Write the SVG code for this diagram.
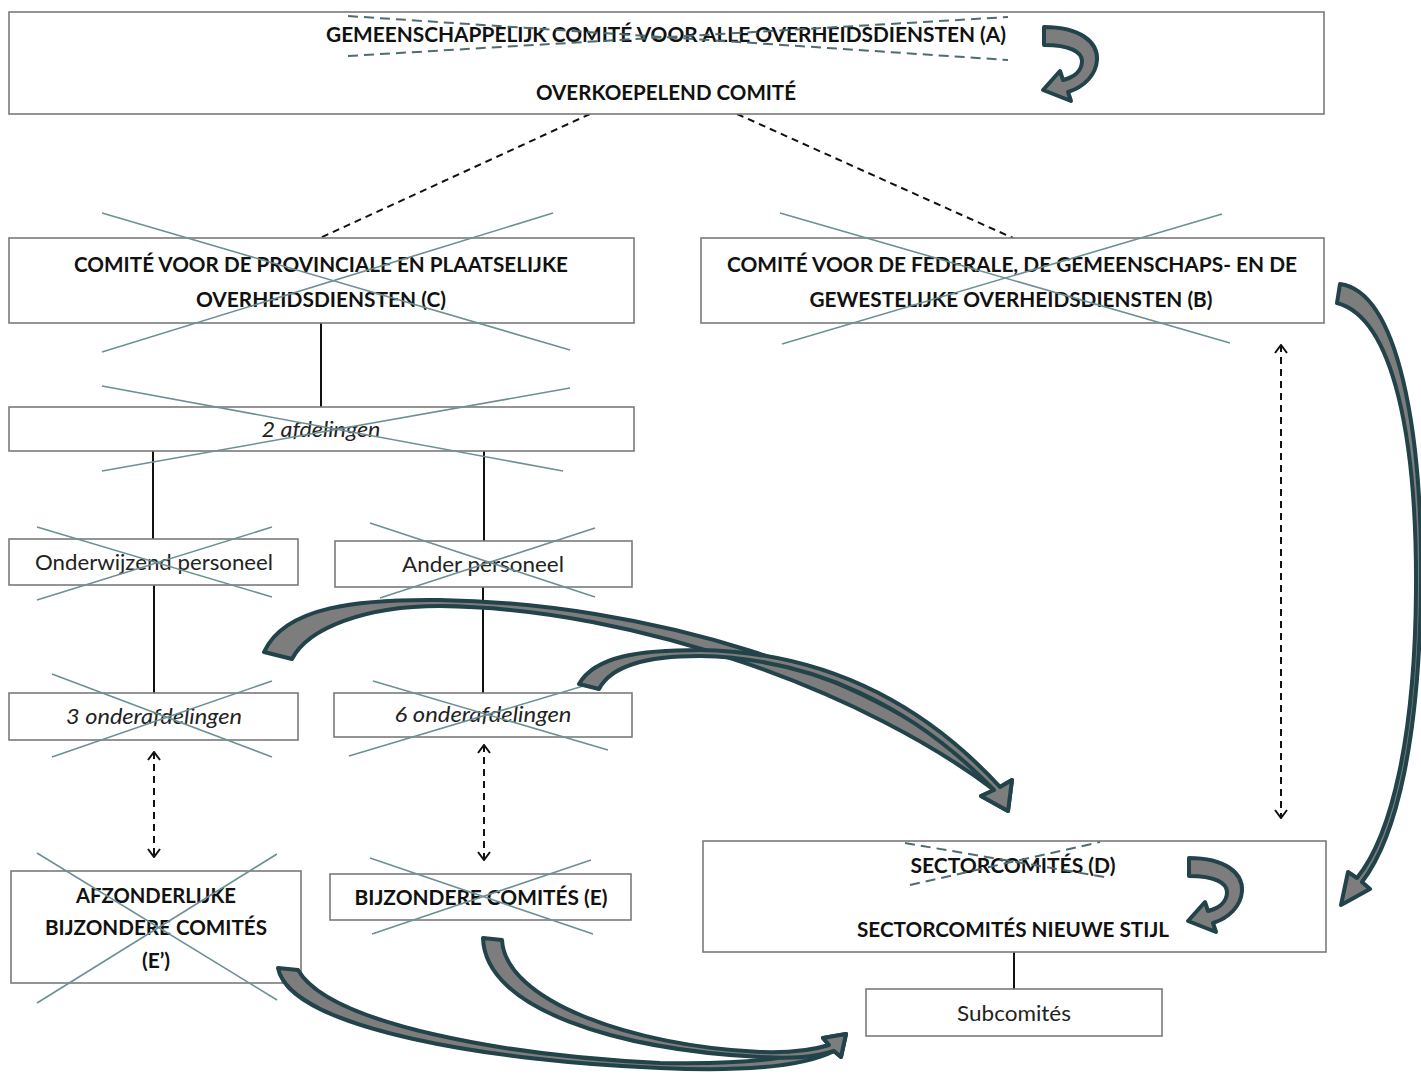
<svg xmlns="http://www.w3.org/2000/svg" width="1421" height="1074" viewBox="0 0 1421 1074">
  <style>
    .box { fill: #ffffff; stroke: #7a7a7a; stroke-width: 1.6; }
    .bold { font-family: Lato, "Open Sans", "Liberation Sans", sans-serif; font-weight: bold; font-size: 21px; fill: #111; text-anchor: middle; }
    .reg { font-family: Lato, "Open Sans", "Liberation Sans", sans-serif; font-size: 21px; fill: #222; text-anchor: middle; }
    .ital { font-family: Lato, "Open Sans", "Liberation Sans", sans-serif; font-style: italic; font-size: 21px; fill: #222; text-anchor: middle; }
    .strike { stroke: #6d9094; stroke-width: 1.6; fill: none; }
    .strike-dash { stroke: #4e6c71; stroke-width: 2; stroke-dasharray: 10 6; fill: none; }
    .link { stroke: #111; stroke-width: 2; fill: none; }
    .link-dash { stroke: #111; stroke-width: 2; stroke-dasharray: 7 5; fill: none; }
    .both { stroke: #111; stroke-width: 2; stroke-dasharray: 7 5; fill: none; marker-start: url(#chev); marker-end: url(#chev); }
    .bigarrow { fill: #7d7d7d; stroke: #22434a; stroke-width: 4; stroke-linejoin: round; }
  </style>
  <defs>
    <marker id="chev" viewBox="0 0 10 14" refX="9" refY="7" markerWidth="10" markerHeight="14" markerUnits="userSpaceOnUse" orient="auto-start-reverse">
      <path d="M1 1 L9 7 L1 13" fill="none" stroke="#111" stroke-width="2"/>
    </marker>
    <path id="uturn" d="M1044,27 C1080,27 1098,42 1097,60 C1096,75 1084,87 1068,92 L1071,101 L1043,90 L1060,71 L1063,80 C1075,77 1082,70 1082,61 C1082,52 1070,45 1044,45 Z"/>
  </defs>

  <!-- connectors -->
  <g id="connectors">
    <line class="link-dash" x1="590" y1="114" x2="320" y2="238"/>
    <line class="link-dash" x1="737" y1="114" x2="1013" y2="238"/>
    <line class="link" x1="321" y1="323" x2="321" y2="407"/>
    <line class="link" x1="153" y1="451" x2="153" y2="539"/>
    <line class="link" x1="484" y1="451" x2="484" y2="541"/>
    <line class="link" x1="154" y1="585" x2="154" y2="693"/>
    <line class="link" x1="483" y1="587" x2="483" y2="693"/>
    <line class="link" x1="1014" y1="952" x2="1014" y2="989"/>
    <line class="both" x1="154" y1="752" x2="154" y2="857"/>
    <line class="both" x1="484" y1="745" x2="484" y2="860"/>
    <line class="both" x1="1281" y1="345" x2="1281" y2="818"/>
  </g>

  <!-- A -->
  <g id="node-a">
    <rect class="box" x="9" y="12" width="1315" height="102"/>
    <text class="bold" x="666" y="42" textLength="680" lengthAdjust="spacingAndGlyphs">GEMEENSCHAPPELIJK COMITÉ VOOR ALLE OVERHEIDSDIENSTEN (A)</text>
    <text class="bold" x="666" y="100" textLength="260" lengthAdjust="spacingAndGlyphs">OVERKOEPELEND COMITÉ</text>
    <line class="strike-dash" x1="348" y1="16" x2="1008" y2="60"/>
    <line class="strike-dash" x1="348" y1="56" x2="1008" y2="17"/>
    <use href="#uturn" class="bigarrow"/>
  </g>

  <!-- C -->
  <g id="node-c">
    <rect class="box" x="9" y="238" width="625" height="85"/>
    <text class="bold" x="321" y="272" textLength="494" lengthAdjust="spacingAndGlyphs">COMITÉ VOOR DE PROVINCIALE EN PLAATSELIJKE</text>
    <text class="bold" x="321" y="307" textLength="250" lengthAdjust="spacingAndGlyphs">OVERHEIDSDIENSTEN (C)</text>
    <line class="strike" x1="102" y1="213" x2="570" y2="350"/>
    <line class="strike" x1="102" y1="352" x2="553" y2="213"/>
  </g>

  <!-- B -->
  <g id="node-b">
    <rect class="box" x="701" y="238" width="623" height="85"/>
    <text class="bold" x="1012" y="272" textLength="570" lengthAdjust="spacingAndGlyphs">COMITÉ VOOR DE FEDERALE, DE GEMEENSCHAPS- EN DE</text>
    <text class="bold" x="1011" y="307" textLength="403" lengthAdjust="spacingAndGlyphs">GEWESTELIJKE OVERHEIDSDIENSTEN (B)</text>
    <line class="strike" x1="780" y1="213" x2="1230" y2="343"/>
    <line class="strike" x1="782" y1="344" x2="1222" y2="214"/>
  </g>

  <!-- 2 afdelingen -->
  <g id="node-afdelingen">
    <rect class="box" x="9" y="407" width="625" height="44"/>
    <text class="ital" x="321" y="437" textLength="119" lengthAdjust="spacingAndGlyphs">2 afdelingen</text>
    <line class="strike" x1="102" y1="386" x2="563" y2="471"/>
    <line class="strike" x1="102" y1="471" x2="570" y2="388"/>
  </g>

  <!-- Onderwijzend personeel -->
  <g id="node-onderwijzend">
    <rect class="box" x="9" y="539" width="289" height="46"/>
    <text class="reg" x="154" y="570" textLength="238" lengthAdjust="spacingAndGlyphs">Onderwijzend personeel</text>
    <line class="strike" x1="37" y1="527" x2="272" y2="597"/>
    <line class="strike" x1="37" y1="600" x2="272" y2="527"/>
  </g>

  <!-- Ander personeel -->
  <g id="node-ander">
    <rect class="box" x="335" y="541" width="297" height="46"/>
    <text class="reg" x="483" y="572" textLength="162" lengthAdjust="spacingAndGlyphs">Ander personeel</text>
    <line class="strike" x1="370" y1="523" x2="595" y2="597"/>
    <line class="strike" x1="380" y1="598" x2="595" y2="528"/>
  </g>

  <!-- 3 onderafdelingen -->
  <g id="node-3onder">
    <rect class="box" x="9" y="693" width="289" height="47"/>
    <text class="ital" x="154" y="724" textLength="176" lengthAdjust="spacingAndGlyphs">3 onderafdelingen</text>
    <line class="strike" x1="52" y1="674" x2="272" y2="757"/>
    <line class="strike" x1="52" y1="757" x2="272" y2="681"/>
  </g>

  <!-- 6 onderafdelingen -->
  <g id="node-6onder">
    <rect class="box" x="334" y="693" width="298" height="44"/>
    <text class="ital" x="483" y="722" textLength="177" lengthAdjust="spacingAndGlyphs">6 onderafdelingen</text>
    <line class="strike" x1="373" y1="681" x2="608" y2="750"/>
    <line class="strike" x1="349" y1="756" x2="590" y2="684"/>
  </g>

  <!-- E' -->
  <g id="node-e-prime">
    <rect class="box" x="11" y="871" width="290" height="112"/>
    <text class="bold" x="156" y="903" textLength="160" lengthAdjust="spacingAndGlyphs">AFZONDERLIJKE</text>
    <text class="bold" x="156" y="935" textLength="222" lengthAdjust="spacingAndGlyphs">BIJZONDERE COMITÉS</text>
    <text class="bold" x="156" y="968">(E’)</text>
    <line class="strike" x1="37" y1="853" x2="277" y2="1000"/>
    <line class="strike" x1="37" y1="1003" x2="277" y2="854"/>
  </g>

  <!-- E -->
  <g id="node-e">
    <rect class="box" x="330" y="874" width="301" height="46"/>
    <text class="bold" x="481" y="905" textLength="253" lengthAdjust="spacingAndGlyphs">BIJZONDERE COMITÉS (E)</text>
    <line class="strike" x1="370" y1="858" x2="593" y2="934"/>
    <line class="strike" x1="372" y1="934" x2="591" y2="860"/>
  </g>

  <!-- D -->
  <g id="node-d">
    <rect class="box" x="703" y="841" width="623" height="111"/>
    <text class="bold" x="1013" y="873" textLength="205" lengthAdjust="spacingAndGlyphs">SECTORCOMITÉS (D)</text>
    <text class="bold" x="1013" y="937" textLength="312" lengthAdjust="spacingAndGlyphs">SECTORCOMITÉS NIEUWE STIJL</text>
    <line class="strike-dash" x1="905" y1="843" x2="1110" y2="878"/>
    <line class="strike-dash" x1="910" y1="885" x2="1100" y2="842"/>
    <use href="#uturn" class="bigarrow" transform="translate(145 831)"/>
  </g>

  <!-- Subcomités -->
  <g id="node-sub">
    <rect class="box" x="866" y="989" width="296" height="47"/>
    <text class="reg" x="1014" y="1021" textLength="114" lengthAdjust="spacingAndGlyphs">Subcomités</text>
  </g>

  <!-- transition arrows -->
  <g id="transitions">
    <path class="bigarrow" d="M1340,284 C1398,292 1423,430 1421,590 C1419,735 1398,835 1362,882 L1370,889 L1341,905 L1348,872 L1357,878 C1392,835 1415,735 1416,590 C1417,440 1394,318 1337,303 Z"/>
    <path class="bigarrow" d="M264,652 C285,606 360,599 440,600 C640,603 880,670 1000,787 L1012,780 L1008,811 L981,796 L994,790 C870,695 640,608 440,606 C365,606 308,628 292,659 Z"/>
    <path class="bigarrow" d="M579,684 C595,656 640,650 700,650 C820,652 920,700 1000,787 L1012,780 L1008,811 L981,796 L994,790 C915,708 815,658 700,656 C650,656 612,664 599,689 Z"/>
    <path class="bigarrow" d="M278,968 C290,1030 500,1062 660,1068 C750,1072 805,1066 834,1051 L841,1057 L846,1034 L823,1038 L829,1045 C800,1058 750,1065 660,1063 C510,1056 330,1025 298,970 Z"/>
    <path class="bigarrow" d="M483,938 C485,1010 620,1050 760,1057 C795,1059 815,1057 834,1051 L841,1057 L846,1034 L823,1038 L829,1045 C810,1051 790,1053 760,1052 C630,1046 505,1000 502,940 Z"/>
  </g>
</svg>
